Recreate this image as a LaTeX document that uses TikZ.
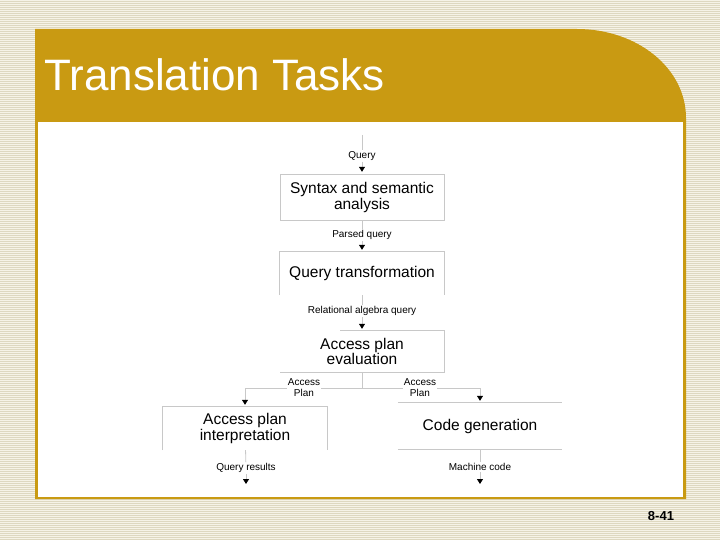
\documentclass[tikz,border=0pt]{standalone}
\usepackage{fontspec}
\setmainfont{Liberation Sans}
\usetikzlibrary{arrows.meta}
\definecolor{gold}{RGB}{201,154,18}
\definecolor{paper}{RGB}{246,243,231}
\definecolor{stripe}{RGB}{222,216,192}
\definecolor{edgegray}{RGB}{200,200,200}
\tikzset{
    task/.style={
           rectangle,
           draw=edgegray,
           minimum width=164pt,
           inner sep=0pt,
           align=center,
           text centered,
           font=\fontsize{15.5}{16}\selectfont,
           },
    tag/.style={
           fill=white,
           inner sep=1pt,
           align=center,
           font=\fontsize{10}{11}\selectfont,
           },
    flow/.style={draw=edgegray, line width=0.8pt},
    arr/.style={flow, -{Triangle[color=black,width=6pt,length=5pt]}, shorten >=2pt},
}
\begin{document}
\begin{tikzpicture}[x=1pt,y=-1pt]
      \useasboundingbox (0,0) rectangle (720,540);
      % striped background and slide panel
      \fill[paper] (0,0) rectangle (720,540);
      \foreach \y in {1,3,...,539}
          \draw[stripe,line width=0.7pt] (0,\y) -- (720,\y);
      \fill[gold] (35,29) -- (577,29) .. controls (637,29) and (686,68) .. (686,118)
          -- (686,499) -- (35,499) -- cycle;
      \fill[white] (38,122) rectangle (683,497);
      \node[anchor=base west, inner sep=0pt, text=white, font=\fontsize{44}{44}\selectfont] (title) at (44,91) {Translation Tasks};
      \node[font=\bfseries\fontsize{13}{13}\selectfont] (page) at (661,516) {8-41};

      % translation steps
      \coordinate (start) at (362,135);
      \node[tag] (query) at (362,156) {Query};
      \node[task, minimum height=46pt] (syntax) at (362,197) {Syntax and semantic\\analysis};
      \node[tag] (parsed) at (362,235) {Parsed query};
      \node[task, draw=none, minimum height=43pt] (transform) at (362,273.5) {Query transformation};
      \node[tag] (relalg) at (362,311) {Relational algebra query};
      \node[task, draw=none, minimum height=41pt] (evaluate) at (362,351.5) {Access plan\\[-1pt]evaluation};
      \coordinate (split) at (362,388);
      \node[tag] (planl) at (304,388) {Access\\Plan};
      \node[tag] (planr) at (420,388) {Access\\Plan};
      \node[task, draw=none, minimum height=43pt] (interpret) at (245,428.5) {Access plan\\interpretation};
      \node[task, draw=none, minimum height=46pt] (codegen) at (480,426) {Code generation};
      \node[tag] (results) at (246,468) {Query results};
      \node[tag] (machine) at (480,467) {Machine code};
      \coordinate (resend) at (246,486);
      \coordinate (codeend) at (480,486);

      % open-sided boxes
      \draw[flow] (transform.south west) |- (transform.north east) -- (transform.south east);
      \draw[flow] ([xshift=-22pt]evaluate.north) -| (evaluate.south east) -- (evaluate.south west);
      \draw[flow] (interpret.south west) |- (interpret.north east) -- (interpret.south east);
      \draw[flow] (codegen.north west) -- (codegen.north east)
                  (codegen.south west) -- (codegen.south east);

      \draw[flow] (start) -- (query);
      \draw[arr] (query) -- (syntax);
      \draw[flow] (syntax) -- (parsed);
      \draw[arr] (parsed) -- (transform);
      \draw[flow] (transform) -- (relalg);
      \draw[arr] (relalg) -- (evaluate);
      \draw[flow] (evaluate) -- (split) -- (planl);
      \draw[arr] (planl) -| (interpret);
      \draw[flow] (split) -- (planr);
      \draw[arr] (planr) -| (codegen);
      \draw[flow] (interpret) -- (results);
      \draw[arr] (results) -- (resend);
      \draw[flow] (codegen) -- (machine);
      \draw[arr] (machine) -- (codeend);
\end{tikzpicture}
\end{document}
